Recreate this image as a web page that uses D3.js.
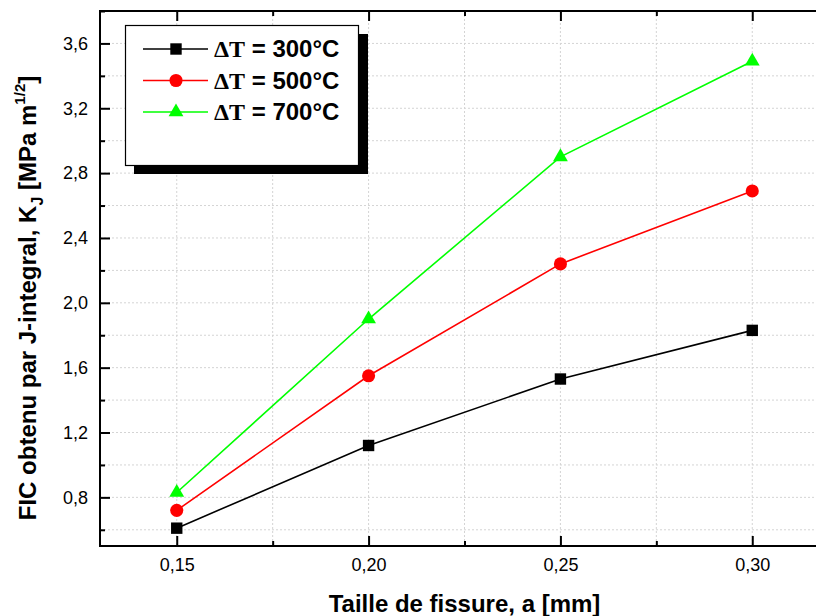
<!DOCTYPE html>
<html>
<head>
<meta charset="utf-8">
<script src="https://cdn.jsdelivr.net/npm/d3@7"></script>
<style>
  body { margin: 0; background: #fff; }
</style>
</head>
<body>
<svg id="chart" width="816" height="616"></svg>
<script>
// data
const crackSizes = [0.15, 0.20, 0.25, 0.30];
const dt300 = [0.61, 1.12, 1.53, 1.83];
const dt500 = [0.72, 1.55, 2.24, 2.69];
const dt700 = [0.83, 1.90, 2.90, 3.49];
const seriesLabels = ["300°C", "500°C", "700°C"];
const xTickValues = [0.15, 0.20, 0.25, 0.30];
const yTickValues = [0.8, 1.2, 1.6, 2.0, 2.4, 2.8, 3.2, 3.6];

const series = [
  { label: seriesLabels[0], values: dt300, color: "#000000", shape: d3.symbolSquare, size: 130 },
  { label: seriesLabels[1], values: dt500, color: "#ff0000", shape: d3.symbolCircle, size: 135 },
  { label: seriesLabels[2], values: dt700, color: "#00ff00", shape: d3.symbolTriangle, size: 95 }
];

const plotLeft = 100, plotTop = 11, plotRight = 829, plotBottom = 546;

const x = d3.scaleLinear().domain([0.13, 0.32]).range([plotLeft, plotRight]);
const y = d3.scaleLinear().domain([0.5, 3.8]).range([plotBottom, plotTop]);

const svg = d3.select("#chart");
const comma = f => v => d3.format(f)(v).replace(".", ",");

// dotted grid at major and minor ticks
const grid = svg.append("g");
grid.selectAll("line.gx")
  .data(d3.range(0.15, 0.3251, 0.025))
  .enter().append("line")
  .attr("x1", d => x(d)).attr("x2", d => x(d))
  .attr("y1", plotTop).attr("y2", plotBottom)
  .style("stroke", "#d4d4d4").style("stroke-dasharray", "2,2").style("stroke-width", 1);
grid.selectAll("line.gy")
  .data(d3.range(0.6, 3.801, 0.2))
  .enter().append("line")
  .attr("x1", plotLeft).attr("x2", plotRight)
  .attr("y1", d => y(d)).attr("y2", d => y(d))
  .style("stroke", "#d4d4d4").style("stroke-dasharray", "2,2").style("stroke-width", 1);

// axes with inward ticks
function styleAxis(g) {
  g.select(".domain").remove();
  g.selectAll(".tick line").style("stroke", "#000").style("stroke-width", 2);
  g.selectAll("text").style("font-family", "Arial, 'Liberation Sans', sans-serif")
    .style("font-size", "18px").style("fill", "#000");
}

const xMinor = d3.range(0.15, 0.3251, 0.025).filter(v => Math.abs(v * 20 - Math.round(v * 20)) > 1e-6);
const yMinor = d3.range(0.6, 3.801, 0.4);

svg.append("g").attr("transform", `translate(0,${plotBottom})`)
  .call(d3.axisBottom(x).tickValues(xTickValues).tickFormat(comma(".2f")).tickSizeInner(-10).tickSizeOuter(0).tickPadding(12))
  .call(styleAxis);
svg.append("g").attr("transform", `translate(0,${plotBottom})`)
  .call(d3.axisBottom(x).tickValues(xMinor).tickFormat("").tickSizeInner(-5).tickSizeOuter(0))
  .call(styleAxis);
svg.append("g").attr("transform", `translate(0,${plotTop})`)
  .call(d3.axisTop(x).tickValues(xTickValues).tickFormat("").tickSizeInner(-10).tickSizeOuter(0))
  .call(styleAxis);
svg.append("g").attr("transform", `translate(0,${plotTop})`)
  .call(d3.axisTop(x).tickValues(xMinor).tickFormat("").tickSizeInner(-5).tickSizeOuter(0))
  .call(styleAxis);
svg.append("g").attr("transform", `translate(${plotLeft},0)`)
  .call(d3.axisLeft(y).tickValues(yTickValues).tickFormat(comma(".1f")).tickSizeInner(-10).tickSizeOuter(0).tickPadding(12))
  .call(styleAxis);
svg.append("g").attr("transform", `translate(${plotLeft},0)`)
  .call(d3.axisLeft(y).tickValues(yMinor).tickFormat("").tickSizeInner(-5).tickSizeOuter(0))
  .call(styleAxis);

// frame
svg.append("rect")
  .attr("x", plotLeft).attr("y", plotTop)
  .attr("width", plotRight - plotLeft).attr("height", plotBottom - plotTop)
  .style("fill", "none").style("stroke", "#000").style("stroke-width", 2);

// lines and markers
const line = d3.line().x((d, i) => x(crackSizes[i])).y(d => y(d));
series.forEach(s => {
  svg.append("path")
    .attr("d", line(s.values))
    .style("fill", "none").style("stroke", s.color).style("stroke-width", 1.6);
  svg.selectAll(null)
    .data(s.values)
    .enter().append("path")
    .attr("transform", (d, i) => `translate(${x(crackSizes[i])},${y(d)})`)
    .attr("d", d3.symbol().type(s.shape).size(s.size))
    .style("fill", s.color);
});

// legend
const lg = svg.append("g");
lg.append("rect").attr("x", 134).attr("y", 34).attr("width", 234).attr("height", 140).style("fill", "#000");
lg.append("rect").attr("x", 125.5).attr("y", 25.5).attr("width", 233).attr("height", 140)
  .style("fill", "#fff").style("stroke", "#000").style("stroke-width", 1.2);
series.forEach((s, i) => {
  const yy = 49 + i * 31.5;
  lg.append("line").attr("x1", 143).attr("x2", 208).attr("y1", yy).attr("y2", yy)
    .style("stroke", s.color).style("stroke-width", 1.6);
  lg.append("path").attr("transform", `translate(176,${yy})`)
    .attr("d", d3.symbol().type(s.shape).size(s.size)).style("fill", s.color);
  const t = lg.append("text").attr("x", 214).attr("y", yy + 8)
    .style("font-size", "24px").style("font-weight", "bold").style("fill", "#000");
  t.append("tspan").style("font-family", "'Liberation Serif', 'Times New Roman', serif").text("ΔT");
  t.append("tspan").style("font-family", "Arial, 'Liberation Sans', sans-serif").text(" = " + s.label);
});

// axis titles
svg.append("text")
  .attr("x", (plotLeft + plotRight) / 2).attr("y", 612)
  .attr("text-anchor", "middle")
  .style("font-family", "Arial, 'Liberation Sans', sans-serif")
  .style("font-size", "24px").style("font-weight", "bold")
  .text("Taille de fissure, a [mm]");

const yt = svg.append("text")
  .attr("transform", "translate(36,298) rotate(-90)")
  .attr("text-anchor", "middle")
  .style("font-family", "Arial, 'Liberation Sans', sans-serif")
  .style("font-size", "24px").style("font-weight", "bold");
yt.append("tspan").text("FIC obtenu par J-integral, K");
yt.append("tspan").attr("dy", 7).style("font-size", "16px").text("J");
yt.append("tspan").attr("dy", -7).text(" [MPa m");
yt.append("tspan").attr("dy", -11).style("font-size", "15px").text("1/2");
yt.append("tspan").attr("dy", 11).text("]");
</script>
</body>
</html>
